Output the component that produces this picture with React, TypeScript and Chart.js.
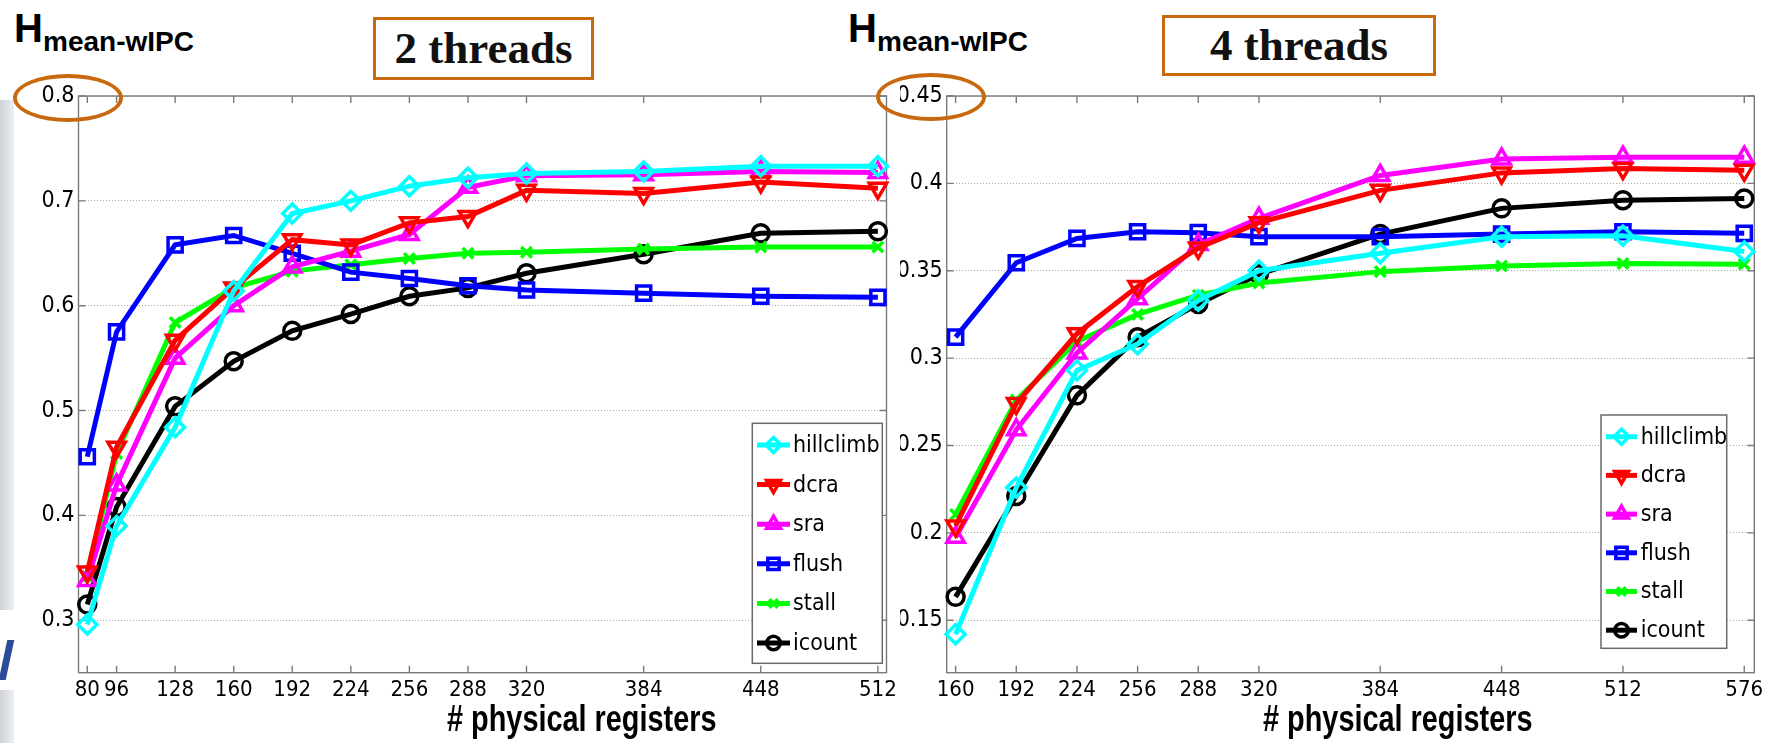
import React, { useEffect, useRef } from 'react';
import { Chart, registerables } from 'chart.js';
import { drawPoint } from 'chart.js/helpers';

Chart.register(...registerables);

// ---------- data ----------
const seriesNames = ['hillclimb', 'dcra', 'sra', 'flush', 'stall', 'icount'];
const seriesColors = ['#00FFFF', '#FF0000', '#FF00FF', '#0000FF', '#00FF00', '#000000'];
const seriesMarkers = ['rectRot', 'triangle', 'triangle', 'rect', 'crossRot', 'circle'];
const markerRotations = [0, 180, 0, 0, 0, 0];
const markerRadii = [9.5, 10, 10, 10, 7.5, 8.5];

// 2 threads
const regs2 = [80, 96, 128, 160, 192, 224, 256, 288, 320, 384, 448, 512];
const hillclimb2 = [0.296, 0.390, 0.484, 0.614, 0.688, 0.700, 0.714, 0.722, 0.726, 0.728, 0.733, 0.733];
const dcra2 = [0.346, 0.465, 0.567, 0.617, 0.663, 0.658, 0.679, 0.685, 0.710, 0.707, 0.718, 0.712];
const sra2 = [0.338, 0.429, 0.550, 0.600, 0.637, 0.652, 0.668, 0.713, 0.724, 0.725, 0.728, 0.727];
const flush2 = [0.456, 0.575, 0.658, 0.667, 0.650, 0.632, 0.626, 0.619, 0.615, 0.612, 0.609, 0.608];
const stall2 = [0.342, 0.459, 0.584, 0.617, 0.633, 0.639, 0.645, 0.650, 0.651, 0.654, 0.656, 0.656];
const icount2 = [0.315, 0.408, 0.504, 0.547, 0.576, 0.592, 0.609, 0.617, 0.631, 0.649, 0.669, 0.671];
const yTicks2 = [0.3, 0.4, 0.5, 0.6, 0.7, 0.8];
const yLabels2 = ['0.3', '0.4', '0.5', '0.6', '0.7', '0.8'];

// 4 threads
const regs4 = [160, 192, 224, 256, 288, 320, 384, 448, 512, 576];
const hillclimb4 = [0.142, 0.226, 0.293, 0.308, 0.333, 0.350, 0.360, 0.3695, 0.370, 0.361];
const dcra4 = [0.204, 0.274, 0.314, 0.341, 0.363, 0.3775, 0.396, 0.406, 0.4085, 0.4075];
const sra4 = [0.1975, 0.259, 0.303, 0.334, 0.365, 0.380, 0.4045, 0.414, 0.415, 0.415];
const flush4 = [0.312, 0.3546, 0.3685, 0.3723, 0.3718, 0.3695, 0.3695, 0.371, 0.3723, 0.3714];
const stall4 = [0.2105, 0.276, 0.3096, 0.325, 0.336, 0.343, 0.3495, 0.3527, 0.3542, 0.3537];
const icount4 = [0.1634, 0.2211, 0.2787, 0.3119, 0.331, 0.348, 0.371, 0.3857, 0.3904, 0.3914];
const yTicks4 = [0.15, 0.2, 0.25, 0.3, 0.35, 0.4, 0.45];
const yLabels4 = ['0.15', '0.2', '0.25', '0.3', '0.35', '0.4', '0.45'];

const NARROW = '"Liberation Sans Narrow", "Arial Narrow", "DejaVu Sans Condensed", sans-serif';
const ORANGE = '#C8690F';

type Props = {
  regs: number[];
  values: number[][];
  xMin: number; xMax: number; yMin: number; yMax: number;
  yTicks: number[]; yLabels: string[];
  width: number; height: number;
  area: { left: number; top: number; right: number; bottom: number };
  legend: { left: number; top: number; width: number; height: number; row0: number; gap: number; lx1: number; lx2: number; tx: number; font: number };
  yFont: number;
};

function makeFramePlugin(p: Props) {
  return {
    id: 'frameLegend',
    beforeDatasetsDraw(chart: any) {
      const ctx = chart.ctx;
      const a = chart.chartArea;
      const xs = chart.scales.x;
      const ys = chart.scales.y;
      ctx.save();
      ctx.strokeStyle = '#7a7a7a';
      ctx.lineWidth = 1.4;
      ctx.strokeRect(a.left, a.top, a.right - a.left, a.bottom - a.top);
      const tl = 7;
      ctx.beginPath();
      p.regs.forEach((v) => {
        const x = xs.getPixelForValue(v);
        ctx.moveTo(x, a.bottom); ctx.lineTo(x, a.bottom - tl);
        ctx.moveTo(x, a.top); ctx.lineTo(x, a.top + tl);
      });
      p.yTicks.forEach((v) => {
        const y = ys.getPixelForValue(v);
        ctx.moveTo(a.left, y); ctx.lineTo(a.left + tl, y);
        ctx.moveTo(a.right, y); ctx.lineTo(a.right - tl, y);
      });
      ctx.stroke();
      ctx.restore();
    },
    afterDatasetsDraw(chart: any) {
      const ctx = chart.ctx;
      const L = p.legend;
      ctx.save();
      ctx.fillStyle = '#ffffff';
      ctx.fillRect(L.left, L.top, L.width, L.height);
      ctx.strokeStyle = '#6a6a6a';
      ctx.lineWidth = 1.5;
      ctx.strokeRect(L.left, L.top, L.width, L.height);
      seriesNames.forEach((name, i) => {
        const y = L.row0 + i * L.gap;
        ctx.strokeStyle = seriesColors[i];
        ctx.lineWidth = 5;
        ctx.beginPath();
        ctx.moveTo(L.lx1, y);
        ctx.lineTo(L.lx2, y);
        ctx.stroke();
        ctx.lineWidth = 3.5;
        ctx.fillStyle = 'rgba(0,0,0,0)';
        drawPoint(ctx, {
          pointStyle: seriesMarkers[i] as any,
          rotation: markerRotations[i],
          radius: markerRadii[i] * 0.8,
          borderWidth: 3.5,
        } as any, (L.lx1 + L.lx2) / 2, y);
        ctx.fillStyle = '#000';
        ctx.font = `${L.font}px ${NARROW}`;
        ctx.textAlign = 'left';
        ctx.textBaseline = 'middle';
        ctx.fillText(name, L.tx, y + 1);
      });
      ctx.restore();
    },
  };
}

function LineChart(p: Props) {
  const ref = useRef<HTMLCanvasElement>(null);
  useEffect(() => {
    const canvas = ref.current!;
    const datasets = seriesNames.map((name, i) => ({
      label: name,
      data: p.regs.map((r, j) => ({ x: r, y: p.values[i][j] })),
      borderColor: seriesColors[i],
      backgroundColor: 'rgba(0,0,0,0)',
      borderWidth: 5,
      pointStyle: seriesMarkers[i],
      pointRotation: markerRotations[i],
      pointRadius: markerRadii[i],
      pointBorderWidth: 3.5,
      pointBorderColor: seriesColors[i],
      pointBackgroundColor: 'rgba(0,0,0,0)',
      tension: 0,
      clip: false,
      fill: false,
    }));
    const chart = new Chart(canvas, {
      type: 'line',
      data: { datasets } as any,
      options: {
        responsive: false,
        animation: false,
        events: [],
        layout: { padding: { left: 0, top: p.area.top, right: p.width - p.area.right, bottom: 0 } },
        plugins: { legend: { display: false }, tooltip: { enabled: false } },
        scales: {
          x: {
            type: 'linear',
            min: p.xMin,
            max: p.xMax,
            afterBuildTicks: (s: any) => { s.ticks = p.regs.map((v) => ({ value: v })); },
            afterFit: (s: any) => { s.height = p.height - p.area.bottom; s.paddingLeft = 0; s.paddingRight = 0; },
            grid: { display: false, drawTicks: false },
            border: { display: false },
            ticks: {
              autoSkip: false, maxRotation: 0, minRotation: 0, padding: 4, color: '#000',
              font: { family: NARROW, size: 22 },
              callback: (v: any) => String(v),
            },
          },
          y: {
            type: 'linear',
            min: p.yMin,
            max: p.yMax,
            afterBuildTicks: (s: any) => { s.ticks = p.yTicks.map((v) => ({ value: v })); },
            afterFit: (s: any) => { s.width = p.area.left; s.paddingTop = 0; s.paddingBottom = 0; },
            grid: { color: '#a8a8a8', lineWidth: 1, drawTicks: false },
            border: { display: false, dash: [1, 2] },
            ticks: {
              padding: 4, color: '#000',
              font: { family: NARROW, size: p.yFont },
              callback: (v: any, i: number) => p.yLabels[i],
            },
          },
        },
      } as any,
      plugins: [makeFramePlugin(p)],
    });
    return () => chart.destroy();
  }, []);
  return <canvas ref={ref} width={p.width} height={p.height} style={{ display: 'block', width: p.width, height: p.height }} />;
}

function YTitle({ left }: { left: number }) {
  return (
    <div style={{ position: 'absolute', left, top: 0, width: 220, height: 60, fontFamily: '"Liberation Sans", Arial, sans-serif', fontWeight: 'bold', color: '#000' }}>
      <span style={{ position: 'absolute', left: 0, top: 8, fontSize: 40, lineHeight: '40px' }}>H</span>
      <span style={{ position: 'absolute', left: 29, top: 28, fontSize: 28, lineHeight: '28px', whiteSpace: 'nowrap' }}>mean-wIPC</span>
    </div>
  );
}

function ThreadBox({ left, top, width, height, text }: { left: number; top: number; width: number; height: number; text: string }) {
  return (
    <div style={{ position: 'absolute', left, top, width, height, boxSizing: 'border-box', border: `3px solid ${ORANGE}`, background: '#fff', display: 'flex', alignItems: 'center', justifyContent: 'center', fontFamily: '"Liberation Serif", "Times New Roman", serif', fontWeight: 'bold', fontSize: 45, color: '#111', whiteSpace: 'nowrap', lineHeight: 1 }}>
      {text}
    </div>
  );
}

function Ellipse({ left, top }: { left: number; top: number }) {
  return <div style={{ position: 'absolute', left, top, width: 110, height: 48, boxSizing: 'border-box', border: `4px solid ${ORANGE}`, borderRadius: '50%', pointerEvents: 'none', zIndex: 5 }} />;
}

function XTitle({ left }: { left: number }) {
  return (
    <div style={{ position: 'absolute', left, top: 699, fontFamily: '"Liberation Sans", Arial, sans-serif', fontWeight: 'bold', fontSize: 37, lineHeight: '40px', whiteSpace: 'nowrap', color: '#000', transform: 'scaleX(0.78)', transformOrigin: '0 0' }}>
      # physical registers
    </div>
  );
}

export default function App() {
  const values2 = [hillclimb2, dcra2, sra2, flush2, stall2, icount2];
  const values4 = [hillclimb4, dcra4, sra4, flush4, stall4, icount4];
  return (
    <div style={{ position: 'absolute', left: 0, top: 0, width: 1776, height: 743, background: '#fff', overflow: 'hidden' }}>
      <div style={{ position: 'absolute', left: 0, top: 100, width: 14, height: 643, background: 'linear-gradient(to right, #cfd2d9, #eceef2)' }} />
      <div style={{ position: 'absolute', left: 0, top: 610, width: 14, height: 80, background: '#fff' }} />
      <div style={{ position: 'absolute', left: 3, top: 640, width: 7, height: 40, background: '#2b4c9a', transform: 'skewX(-12deg)' }} />

      <div style={{ position: 'absolute', left: 0, top: 80 }}>
        <LineChart
          regs={regs2} values={values2}
          xMin={75.2} xMax={516.7} yMin={0.25} yMax={0.8}
          yTicks={yTicks2} yLabels={yLabels2}
          width={900} height={630}
          area={{ left: 78.5, top: 16, right: 887.7, bottom: 592.7 }}
          legend={{ left: 752.3, top: 343.3, width: 130, height: 240, row0: 365, gap: 39.6, lx1: 757, lx2: 790, tx: 793, font: 23 }}
          yFont={23}
        />
      </div>
      <div style={{ position: 'absolute', left: 900, top: 80 }}>
        <LineChart
          regs={regs4} values={values4}
          xMin={155.3} xMax={581.3} yMin={0.12} yMax={0.45}
          yTicks={yTicks4} yLabels={yLabels4}
          width={876} height={630}
          area={{ left: 46.7, top: 16, right: 854.3, bottom: 592.7 }}
          legend={{ left: 701, top: 335, width: 125.7, height: 233.3, row0: 356.7, gap: 38.7, lx1: 706, lx2: 737, tx: 740.7, font: 23 }}
          yFont={23}
        />
      </div>

      <YTitle left={14} />
      <YTitle left={848} />
      <ThreadBox left={373} top={17} width={221} height={63} text="2 threads" />
      <ThreadBox left={1162} top={15} width={274} height={61} text="4 threads" />
      <Ellipse left={13} top={73.5} />
      <Ellipse left={875.5} top={73} />
      <XTitle left={447} />
      <XTitle left={1263} />
    </div>
  );
}
